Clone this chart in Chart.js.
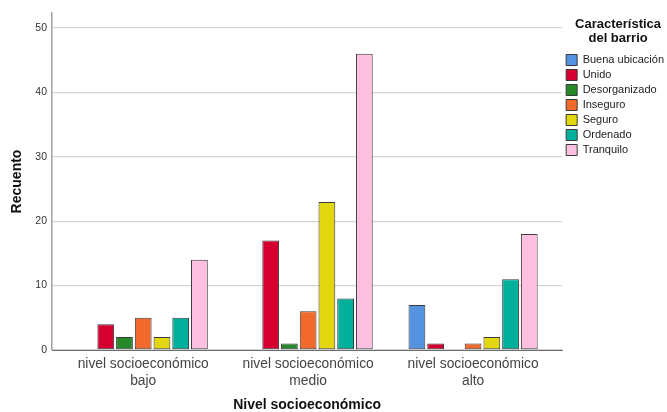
<!DOCTYPE html>
<html>
<head>
<meta charset="utf-8">
<script src="https://cdn.jsdelivr.net/npm/chart.js@4"></script>
<style>
  html, body { margin: 0; padding: 0; background: #fff; }
  #wrap { width: 667px; height: 412px; }
</style>
</head>
<body>
<div id="wrap"><canvas id="barChart" width="667" height="412"></canvas></div>
<script>
// categories of the x axis (one per group)
const levels = [
  ["nivel socioeconómico", "bajo"],
  ["nivel socioeconómico", "medio"],
  ["nivel socioeconómico", "alto"]
];
// series (legend entries) and their counts per level
const traits = ["Buena ubicación", "Unido", "Desorganizado", "Inseguro", "Seguro", "Ordenado", "Tranquilo"];
const buenaUbicacion = [0, 0, 7];
const unido = [4, 17, 1];
const desorganizado = [2, 1, 0];
const inseguro = [5, 6, 1];
const seguro = [2, 23, 2];
const ordenado = [5, 8, 11];
const tranquilo = [14, 46, 18];
const yTicks = [0, 10, 20, 30, 40, 50];

const counts = [buenaUbicacion, unido, desorganizado, inseguro, seguro, ordenado, tranquilo];
const colors = ["#5592e0", "#d5002f", "#25892a", "#f26a2b", "#e2d70f", "#00b09b", "#fec0e0"];
const font = "'Liberation Sans', Arial, sans-serif";

const datasets = traits.map((name, i) => ({
  label: name,
  data: counts[i].map((v, j) => ({ x: j, y: v })),
  backgroundColor: colors[i],
  borderColor: "#3a3a3a",
  borderWidth: 1,
  borderSkipped: false,
  categoryPercentage: 0.795,
  barPercentage: 0.895
}));

new Chart(document.getElementById("barChart"), {
  type: "bar",
  data: { datasets },
  options: {
    responsive: false,
    animation: false,
    layout: { padding: { top: 13, left: 0, right: -7, bottom: 0 } },
    plugins: {
      tooltip: { enabled: false },
      legend: {
        position: "right",
        align: "start",
        title: {
          display: true,
          text: ["Característica", "del barrio"],
          color: "#111",
          font: { family: font, size: 13, weight: "bold", lineHeight: 1.1 },
          padding: { top: 4.5, bottom: 18.7 }
        },
        labels: {
          boxWidth: 11,
          boxHeight: 11,
          padding: 4,
          color: "#222",
          font: { family: font, size: 11 }
        }
      }
    },
    scales: {
      x: {
        type: "linear",
        offset: false,
        min: -0.553,
        max: 2.54,
        afterFit: (s) => { s.height = 62; },
        afterBuildTicks: (s) => { s.ticks = levels.map((_, i) => ({ value: i })); },
        grid: { display: false, drawTicks: false },
        border: { display: true, color: "#6b6b6b", width: 1 },
        ticks: {
          padding: 6,
          color: "#444",
          font: { family: font, size: 13.8 },
          maxRotation: 0,
          autoSkip: false,
          callback: (v) => levels[v]
        },
        title: {
          display: true,
          text: "Nivel socioeconómico",
          color: "#111",
          font: { family: font, size: 14, weight: "bold", lineHeight: 1 },
          padding: { top: 0, bottom: 0 }
        }
      },
      y: {
        min: 0,
        max: 52.33,
        afterFit: (s) => { s.width = 52; },
        afterBuildTicks: (s) => { s.ticks = yTicks.map((v) => ({ value: v })); },
        grid: { color: "#d6d6d6", lineWidth: 1.3, drawTicks: false },
        border: { display: true, color: "#a0a0a0", width: 1.5 },
        ticks: {
          padding: 5,
          color: "#333",
          font: { family: font, size: 10.5 }
        },
        title: {
          display: true,
          text: "Recuento",
          color: "#111",
          font: { family: font, size: 14, weight: "bold" },
          padding: { top: 8.6, bottom: 0 }
        }
      }
    }
  }
});
</script>
</body>
</html>
